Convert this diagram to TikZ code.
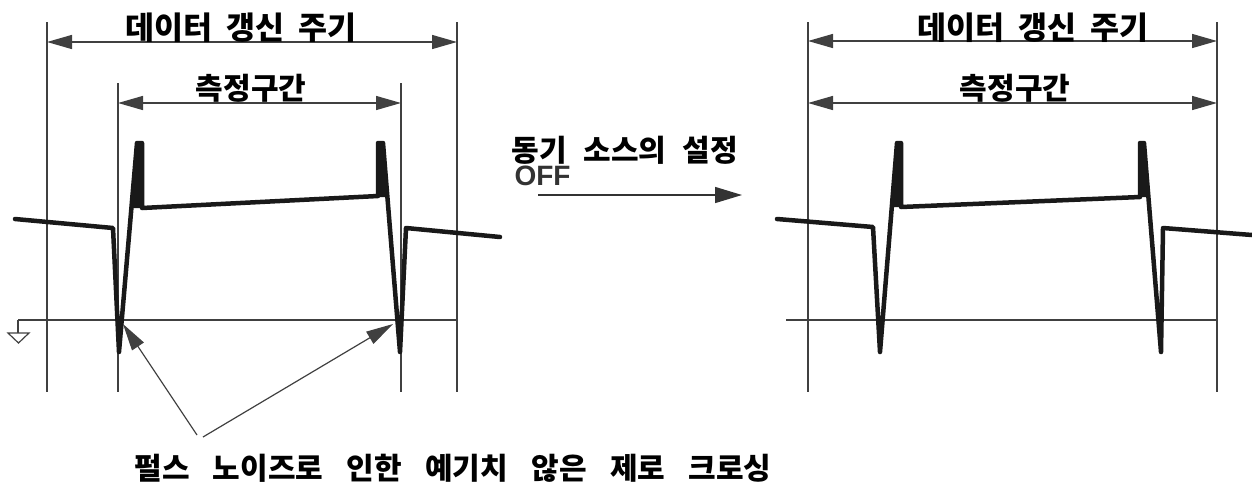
\documentclass[tikz,border=0pt]{standalone}
\usepackage{fontspec}
\newfontfamily\kr{Noto Sans CJK KR}
\newfontfamily\lat{Liberation Sans}
\usetikzlibrary{arrows.meta}
\newcommand{\kgap}[1][0.45em]{\hspace{#1}}
\begin{document}
\begin{tikzpicture}[x=1pt,y=-1pt,
  guide/.style={line width=1.4pt, draw=black!75},
  dim/.style={line width=1.4pt, draw=black!75,
    {Triangle[length=25pt,width=14pt]}-{Triangle[length=25pt,width=14pt]}},
  wave/.style={line width=4.5pt, draw=black!90, line join=round, line cap=round},
  spike/.style={fill=black!90},
  lbl/.style={font=\kr\bfseries\fontsize{31.5}{36}\selectfont, inner sep=0pt, anchor=base},
  lblm/.style={font=\kr\bfseries\fontsize{30}{34}\selectfont, inner sep=0pt, anchor=base},
  lbls/.style={font=\kr\bfseries\fontsize{30}{34}\selectfont, inner sep=0pt, anchor=base},
  offlbl/.style={font=\lat\bfseries\fontsize{28}{30}\selectfont, text=black!80, inner sep=0pt, anchor=base},
  pointer/.style={line width=1.2pt, draw=black!75, -{Triangle[length=27pt,width=14pt]}},
  flow/.style={line width=1.4pt, draw=black!80, -{Triangle[length=27pt,width=16pt]}}]
\useasboundingbox (0,0) rectangle (1252,491);

% ---------- left panel ----------
\coordinate (L1t) at (47,22);  \coordinate (L1b) at (47,392);
\coordinate (L2t) at (457,22); \coordinate (L2b) at (457,392);
\coordinate (L3t) at (118,83); \coordinate (L3b) at (118,392);
\coordinate (L4t) at (401,83); \coordinate (L4b) at (401,392);
\draw[guide] (L1t) -- (L1b);
\draw[guide] (L2t) -- (L2b);
\draw[guide] (L3t) -- (L3b);
\draw[guide] (L4t) -- (L4b);
\coordinate (LA1) at (47,42);  \coordinate (LA2) at (457,42);
\coordinate (LB1) at (118,103); \coordinate (LB2) at (401,103);
\draw[dim] (LA1) -- (LA2);
\draw[dim] (LB1) -- (LB2);
\coordinate (gnd) at (18,320); \coordinate (Lz) at (457,320);
\draw[guide] (gnd) -- (Lz);
\draw[guide] (gnd) -- (18,333);
\draw[line width=1.2pt, draw=black!75] (8,333) -- (29,333) -- (18.5,343) -- cycle;

\fill[spike] (131,208) -- (137,143) -- (142,143) -- (142,208) -- cycle;
\fill[spike] (378,143) -- (383,143) -- (387.5,197) -- (378,197) -- cycle;
\draw[wave] (15,219) -- (113,228) -- (119,352) -- (137,143) -- (142,143) -- (142,208)
  -- (378,196) -- (378,143) -- (383,143) -- (400,352) -- (406,228) -- (500,237);

\node[lbl] (t1) at (241,39) {데이터\kgap 갱신\kgap 주기};
\node[lblm] (m1) at (251,99) {측정구간};

% pointers
\coordinate (pa) at (197,435); \coordinate (pb) at (203,437);
\coordinate (zl) at (123,324); \coordinate (zr) at (393,324);
\draw[pointer] (pa) -- (zl);
\draw[pointer] (pb) -- (zr);
\node[lbls] (note) at (453,479) {펄스\kgap[0.78em]노이즈로\kgap[0.78em]인한\kgap[0.78em]예기치\kgap[0.78em]않은\kgap[0.78em]제로\kgap[0.78em]크로싱};

% ---------- middle ----------
\node[lblm] (sync) at (625,161) {동기\kgap[0.55em]소스의\kgap[0.55em]설정};
\node[offlbl] (off) at (542.5,185) {OFF};
\coordinate (fa) at (538,195); \coordinate (fb) at (742,195);
\draw[flow] (fa) -- (fb);

% ---------- right panel ----------
\coordinate (R1t) at (808,22);  \coordinate (R1b) at (808,392);
\coordinate (R2t) at (1217,22); \coordinate (R2b) at (1217,392);
\draw[guide] (R1t) -- (R1b);
\draw[guide] (R2t) -- (R2b);
\coordinate (RA1) at (808,41);  \coordinate (RA2) at (1217,41);
\coordinate (RB1) at (808,103); \coordinate (RB2) at (1217,103);
\draw[dim] (RA1) -- (RA2);
\draw[dim] (RB1) -- (RB2);
\coordinate (Rz1) at (786,320); \coordinate (Rz2) at (1217,320);
\draw[guide] (Rz1) -- (Rz2);

\fill[spike] (892,207) -- (897,143) -- (901,143) -- (901,207) -- cycle;
\fill[spike] (1140,143) -- (1144,143) -- (1148.5,197) -- (1140,197) -- cycle;
\draw[wave] (777,219) -- (873,227) -- (880,352) -- (897,143) -- (901,143) -- (901,207)
  -- (1140,197) -- (1140,143) -- (1144,143) -- (1161,352) -- (1163,228) -- (1252,235);

\node[lbl] (t2) at (1033,39) {데이터\kgap 갱신\kgap 주기};
\node[lblm] (m2) at (1015,99) {측정구간};
\end{tikzpicture}
\end{document}
